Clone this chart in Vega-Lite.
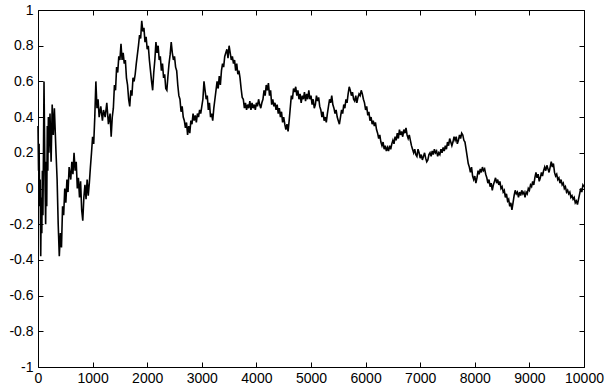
{
  "$schema": "https://vega.github.io/schema/vega-lite/v6.json",
  "width": 546,
  "height": 357,
  "autosize": "none",
  "padding": {"left": 38, "top": 10, "right": 22, "bottom": 22},
  "background": "white",
  "config": {
    "view": {"stroke": null},
    "axis": {
      "grid": false,
      "domainColor": "black",
      "domainWidth": 1,
      "tickColor": "black",
      "tickWidth": 1,
      "tickSize": -5,
      "labelFont": "Liberation Sans",
      "labelFontSize": 14,
      "labelColor": "black",
      "labelFlush": false,
      "labelOverlap": false,
      "title": null
    }
  },
  "datasets": {
    "walk": [
      {"t":0,"v":0.35},{"t":10,"v":0.1},{"t":20,"v":0.25},{"t":30,"v":-0.1},{"t":40,"v":0.05},{"t":50,"v":-0.38},{"t":60,"v":-0.05},{"t":70,"v":-0.25},{"t":80,"v":0.1},{"t":90,"v":-0.15},
      {"t":100,"v":0.2},{"t":110,"v":0.6},{"t":120,"v":0.3},{"t":130,"v":0.0},{"t":140,"v":-0.2},{"t":150,"v":0.15},{"t":160,"v":-0.1},{"t":170,"v":0.35},{"t":180,"v":0.1},{"t":190,"v":0.4},
      {"t":200,"v":0.2},{"t":220,"v":0.42},{"t":240,"v":0.15},{"t":260,"v":0.47},{"t":280,"v":0.3},{"t":300,"v":0.45},{"t":330,"v":0.2},{"t":350,"v":0.05},{"t":370,"v":-0.2},{"t":390,"v":-0.38},
      {"t":410,"v":-0.25},{"t":430,"v":-0.33},{"t":450,"v":-0.1},{"t":470,"v":-0.15},{"t":490,"v":0.0},{"t":510,"v":-0.08},{"t":530,"v":0.05},{"t":550,"v":-0.02},{"t":570,"v":0.12},{"t":600,"v":0.05},
      {"t":620,"v":0.15},{"t":640,"v":0.08},{"t":660,"v":0.2},{"t":680,"v":0.1},{"t":700,"v":0.15},{"t":720,"v":0.0},{"t":740,"v":0.06},{"t":760,"v":-0.05},{"t":780,"v":0.04},{"t":800,"v":-0.12},
      {"t":820,"v":-0.18},{"t":840,"v":-0.05},{"t":860,"v":0.02},{"t":880,"v":-0.06},{"t":900,"v":0.05},{"t":920,"v":-0.04},{"t":940,"v":0.03},{"t":960,"v":0.12},{"t":980,"v":0.2},{"t":1000,"v":0.29},
      {"t":1020,"v":0.25},{"t":1040,"v":0.4},{"t":1060,"v":0.6},{"t":1080,"v":0.45},{"t":1100,"v":0.5},{"t":1120,"v":0.4},{"t":1150,"v":0.46},{"t":1180,"v":0.38},{"t":1200,"v":0.44},{"t":1230,"v":0.4},
      {"t":1260,"v":0.48},{"t":1290,"v":0.36},{"t":1320,"v":0.42},{"t":1340,"v":0.29},{"t":1360,"v":0.4},{"t":1380,"v":0.45},{"t":1400,"v":0.58},{"t":1420,"v":0.55},{"t":1440,"v":0.68},{"t":1460,"v":0.65},
      {"t":1480,"v":0.74},{"t":1500,"v":0.72},{"t":1520,"v":0.81},{"t":1540,"v":0.72},{"t":1560,"v":0.76},{"t":1580,"v":0.7},{"t":1600,"v":0.72},{"t":1620,"v":0.62},{"t":1640,"v":0.58},{"t":1660,"v":0.5},
      {"t":1680,"v":0.46},{"t":1700,"v":0.55},{"t":1720,"v":0.52},{"t":1740,"v":0.62},{"t":1760,"v":0.6},{"t":1780,"v":0.64},{"t":1800,"v":0.7},{"t":1820,"v":0.75},{"t":1840,"v":0.8},{"t":1860,"v":0.86},
      {"t":1880,"v":0.84},{"t":1900,"v":0.94},{"t":1920,"v":0.88},{"t":1940,"v":0.9},{"t":1960,"v":0.82},{"t":1980,"v":0.85},{"t":2000,"v":0.78},{"t":2020,"v":0.8},{"t":2040,"v":0.72},{"t":2060,"v":0.66},
      {"t":2080,"v":0.6},{"t":2100,"v":0.55},{"t":2120,"v":0.65},{"t":2140,"v":0.72},{"t":2160,"v":0.82},{"t":2180,"v":0.76},{"t":2200,"v":0.8},{"t":2220,"v":0.72},{"t":2240,"v":0.74},{"t":2260,"v":0.66},
      {"t":2280,"v":0.7},{"t":2300,"v":0.62},{"t":2320,"v":0.64},{"t":2340,"v":0.56},{"t":2360,"v":0.55},{"t":2380,"v":0.63},{"t":2400,"v":0.7},{"t":2420,"v":0.75},{"t":2440,"v":0.82},{"t":2460,"v":0.76},
      {"t":2480,"v":0.72},{"t":2500,"v":0.74},{"t":2520,"v":0.68},{"t":2540,"v":0.66},{"t":2560,"v":0.58},{"t":2580,"v":0.52},{"t":2600,"v":0.5},{"t":2620,"v":0.43},{"t":2640,"v":0.46},{"t":2660,"v":0.4},
      {"t":2680,"v":0.38},{"t":2700,"v":0.34},{"t":2720,"v":0.37},{"t":2740,"v":0.3},{"t":2760,"v":0.35},{"t":2780,"v":0.31},{"t":2800,"v":0.38},{"t":2820,"v":0.36},{"t":2840,"v":0.42},{"t":2860,"v":0.38},
      {"t":2880,"v":0.41},{"t":2900,"v":0.37},{"t":2920,"v":0.42},{"t":2940,"v":0.4},{"t":2960,"v":0.44},{"t":2980,"v":0.42},{"t":3000,"v":0.46},{"t":3020,"v":0.5},{"t":3040,"v":0.6},{"t":3060,"v":0.55},
      {"t":3080,"v":0.5},{"t":3100,"v":0.52},{"t":3120,"v":0.44},{"t":3140,"v":0.48},{"t":3160,"v":0.4},{"t":3180,"v":0.42},{"t":3200,"v":0.38},{"t":3220,"v":0.45},{"t":3240,"v":0.5},{"t":3260,"v":0.55},
      {"t":3280,"v":0.6},{"t":3300,"v":0.56},{"t":3320,"v":0.63},{"t":3340,"v":0.58},{"t":3360,"v":0.66},{"t":3380,"v":0.7},{"t":3400,"v":0.68},{"t":3420,"v":0.74},{"t":3440,"v":0.76},{"t":3460,"v":0.78},
      {"t":3480,"v":0.73},{"t":3500,"v":0.8},{"t":3520,"v":0.76},{"t":3540,"v":0.72},{"t":3560,"v":0.74},{"t":3580,"v":0.7},{"t":3600,"v":0.72},{"t":3620,"v":0.66},{"t":3640,"v":0.7},{"t":3660,"v":0.64},
      {"t":3680,"v":0.66},{"t":3700,"v":0.62},{"t":3720,"v":0.56},{"t":3740,"v":0.51},{"t":3760,"v":0.5},{"t":3780,"v":0.45},{"t":3800,"v":0.48},{"t":3820,"v":0.44},{"t":3840,"v":0.47},{"t":3860,"v":0.45},
      {"t":3880,"v":0.49},{"t":3900,"v":0.44},{"t":3920,"v":0.48},{"t":3940,"v":0.45},{"t":3960,"v":0.47},{"t":3980,"v":0.44},{"t":4000,"v":0.48},{"t":4020,"v":0.46},{"t":4040,"v":0.5},{"t":4060,"v":0.47},
      {"t":4080,"v":0.45},{"t":4100,"v":0.48},{"t":4120,"v":0.5},{"t":4140,"v":0.55},{"t":4160,"v":0.52},{"t":4180,"v":0.58},{"t":4200,"v":0.55},{"t":4220,"v":0.59},{"t":4240,"v":0.52},{"t":4260,"v":0.55},
      {"t":4280,"v":0.47},{"t":4300,"v":0.5},{"t":4320,"v":0.46},{"t":4340,"v":0.48},{"t":4360,"v":0.44},{"t":4380,"v":0.47},{"t":4400,"v":0.42},{"t":4420,"v":0.45},{"t":4440,"v":0.4},{"t":4460,"v":0.43},
      {"t":4480,"v":0.37},{"t":4500,"v":0.4},{"t":4520,"v":0.36},{"t":4540,"v":0.33},{"t":4560,"v":0.36},{"t":4580,"v":0.32},{"t":4600,"v":0.38},{"t":4620,"v":0.45},{"t":4640,"v":0.52},{"t":4660,"v":0.5},
      {"t":4680,"v":0.56},{"t":4700,"v":0.54},{"t":4720,"v":0.57},{"t":4740,"v":0.52},{"t":4760,"v":0.55},{"t":4780,"v":0.5},{"t":4800,"v":0.53},{"t":4820,"v":0.48},{"t":4840,"v":0.52},{"t":4860,"v":0.5},
      {"t":4880,"v":0.54},{"t":4900,"v":0.49},{"t":4920,"v":0.53},{"t":4940,"v":0.5},{"t":4960,"v":0.55},{"t":4980,"v":0.5},{"t":5000,"v":0.52},{"t":5020,"v":0.47},{"t":5040,"v":0.5},{"t":5060,"v":0.45},
      {"t":5080,"v":0.47},{"t":5100,"v":0.52},{"t":5120,"v":0.49},{"t":5140,"v":0.51},{"t":5160,"v":0.46},{"t":5180,"v":0.44},{"t":5200,"v":0.4},{"t":5220,"v":0.43},{"t":5240,"v":0.38},{"t":5260,"v":0.4},
      {"t":5280,"v":0.37},{"t":5300,"v":0.42},{"t":5320,"v":0.46},{"t":5340,"v":0.5},{"t":5360,"v":0.48},{"t":5380,"v":0.52},{"t":5400,"v":0.47},{"t":5420,"v":0.45},{"t":5440,"v":0.42},{"t":5460,"v":0.44},
      {"t":5480,"v":0.4},{"t":5500,"v":0.38},{"t":5520,"v":0.36},{"t":5540,"v":0.4},{"t":5560,"v":0.44},{"t":5580,"v":0.42},{"t":5600,"v":0.47},{"t":5620,"v":0.45},{"t":5640,"v":0.5},{"t":5660,"v":0.48},
      {"t":5680,"v":0.53},{"t":5700,"v":0.57},{"t":5720,"v":0.55},{"t":5740,"v":0.52},{"t":5760,"v":0.54},{"t":5780,"v":0.5},{"t":5800,"v":0.49},{"t":5820,"v":0.52},{"t":5840,"v":0.48},{"t":5860,"v":0.51},
      {"t":5880,"v":0.53},{"t":5900,"v":0.52},{"t":5920,"v":0.55},{"t":5940,"v":0.53},{"t":5960,"v":0.5},{"t":5980,"v":0.48},{"t":6000,"v":0.44},{"t":6020,"v":0.46},{"t":6040,"v":0.41},{"t":6060,"v":0.43},
      {"t":6080,"v":0.38},{"t":6100,"v":0.4},{"t":6120,"v":0.36},{"t":6140,"v":0.38},{"t":6160,"v":0.35},{"t":6180,"v":0.37},{"t":6200,"v":0.33},{"t":6220,"v":0.31},{"t":6240,"v":0.28},{"t":6260,"v":0.3},
      {"t":6280,"v":0.26},{"t":6300,"v":0.24},{"t":6320,"v":0.26},{"t":6340,"v":0.22},{"t":6360,"v":0.24},{"t":6380,"v":0.21},{"t":6400,"v":0.23},{"t":6420,"v":0.21},{"t":6440,"v":0.24},{"t":6460,"v":0.22},
      {"t":6480,"v":0.25},{"t":6500,"v":0.27},{"t":6520,"v":0.25},{"t":6540,"v":0.29},{"t":6560,"v":0.27},{"t":6580,"v":0.31},{"t":6600,"v":0.28},{"t":6620,"v":0.33},{"t":6640,"v":0.3},{"t":6660,"v":0.32},
      {"t":6680,"v":0.29},{"t":6700,"v":0.33},{"t":6720,"v":0.31},{"t":6740,"v":0.34},{"t":6760,"v":0.3},{"t":6780,"v":0.28},{"t":6800,"v":0.3},{"t":6820,"v":0.27},{"t":6840,"v":0.24},{"t":6860,"v":0.22},
      {"t":6880,"v":0.2},{"t":6900,"v":0.22},{"t":6920,"v":0.19},{"t":6940,"v":0.18},{"t":6960,"v":0.22},{"t":6980,"v":0.2},{"t":7000,"v":0.17},{"t":7020,"v":0.19},{"t":7040,"v":0.16},{"t":7060,"v":0.18},
      {"t":7080,"v":0.2},{"t":7100,"v":0.17},{"t":7120,"v":0.15},{"t":7140,"v":0.16},{"t":7160,"v":0.19},{"t":7180,"v":0.2},{"t":7200,"v":0.18},{"t":7220,"v":0.21},{"t":7240,"v":0.19},{"t":7260,"v":0.22},
      {"t":7280,"v":0.2},{"t":7300,"v":0.21},{"t":7320,"v":0.18},{"t":7340,"v":0.2},{"t":7360,"v":0.19},{"t":7380,"v":0.22},{"t":7400,"v":0.2},{"t":7420,"v":0.23},{"t":7440,"v":0.21},{"t":7460,"v":0.24},
      {"t":7480,"v":0.22},{"t":7500,"v":0.26},{"t":7520,"v":0.24},{"t":7540,"v":0.28},{"t":7560,"v":0.26},{"t":7580,"v":0.24},{"t":7600,"v":0.26},{"t":7620,"v":0.29},{"t":7640,"v":0.27},{"t":7660,"v":0.29},
      {"t":7680,"v":0.25},{"t":7700,"v":0.27},{"t":7720,"v":0.3},{"t":7740,"v":0.28},{"t":7760,"v":0.31},{"t":7780,"v":0.3},{"t":7800,"v":0.27},{"t":7820,"v":0.26},{"t":7840,"v":0.22},{"t":7860,"v":0.18},
      {"t":7880,"v":0.14},{"t":7900,"v":0.12},{"t":7920,"v":0.09},{"t":7940,"v":0.12},{"t":7960,"v":0.07},{"t":7980,"v":0.05},{"t":8000,"v":0.07},{"t":8020,"v":0.03},{"t":8040,"v":0.06},{"t":8060,"v":0.1},
      {"t":8080,"v":0.08},{"t":8100,"v":0.11},{"t":8120,"v":0.09},{"t":8140,"v":0.12},{"t":8160,"v":0.1},{"t":8180,"v":0.11},{"t":8200,"v":0.08},{"t":8220,"v":0.06},{"t":8240,"v":0.03},{"t":8260,"v":0.05},
      {"t":8280,"v":0.01},{"t":8300,"v":0.03},{"t":8320,"v":-0.01},{"t":8340,"v":0.02},{"t":8360,"v":0.04},{"t":8380,"v":0.06},{"t":8400,"v":0.03},{"t":8420,"v":0.05},{"t":8440,"v":0.02},{"t":8460,"v":0.04},
      {"t":8480,"v":0.0},{"t":8500,"v":0.01},{"t":8520,"v":-0.02},{"t":8540,"v":-0.01},{"t":8560,"v":-0.05},{"t":8580,"v":-0.03},{"t":8600,"v":-0.07},{"t":8620,"v":-0.06},{"t":8640,"v":-0.1},{"t":8660,"v":-0.08},
      {"t":8680,"v":-0.12},{"t":8700,"v":-0.08},{"t":8720,"v":-0.04},{"t":8740,"v":-0.01},{"t":8760,"v":-0.03},{"t":8780,"v":-0.02},{"t":8800,"v":-0.05},{"t":8820,"v":-0.02},{"t":8840,"v":-0.04},{"t":8860,"v":-0.01},
      {"t":8880,"v":-0.03},{"t":8900,"v":-0.02},{"t":8920,"v":-0.05},{"t":8940,"v":-0.02},{"t":8960,"v":-0.03},{"t":8980,"v":0.0},{"t":9000,"v":-0.01},{"t":9020,"v":0.02},{"t":9040,"v":0.01},{"t":9060,"v":0.04},
      {"t":9080,"v":0.02},{"t":9100,"v":0.06},{"t":9120,"v":0.09},{"t":9140,"v":0.06},{"t":9160,"v":0.08},{"t":9180,"v":0.04},{"t":9200,"v":0.06},{"t":9220,"v":0.09},{"t":9240,"v":0.07},{"t":9260,"v":0.1},
      {"t":9280,"v":0.12},{"t":9300,"v":0.1},{"t":9320,"v":0.13},{"t":9340,"v":0.11},{"t":9360,"v":0.09},{"t":9380,"v":0.12},{"t":9400,"v":0.15},{"t":9420,"v":0.12},{"t":9440,"v":0.14},{"t":9460,"v":0.09},
      {"t":9480,"v":0.07},{"t":9500,"v":0.08},{"t":9520,"v":0.05},{"t":9540,"v":0.06},{"t":9560,"v":0.03},{"t":9580,"v":0.05},{"t":9600,"v":0.02},{"t":9620,"v":0.03},{"t":9640,"v":0.0},{"t":9660,"v":0.01},
      {"t":9680,"v":-0.02},{"t":9700,"v":-0.01},{"t":9720,"v":-0.03},{"t":9740,"v":-0.02},{"t":9760,"v":-0.05},{"t":9780,"v":-0.04},{"t":9800,"v":-0.06},{"t":9820,"v":-0.05},{"t":9840,"v":-0.08},{"t":9860,"v":-0.07},
      {"t":9880,"v":-0.09},{"t":9900,"v":-0.06},{"t":9920,"v":-0.03},{"t":9940,"v":0.0},{"t":9960,"v":-0.02},{"t":9980,"v":0.02},{"t":10000,"v":0.01}
    ]
  },
  "data": {"name": "walk"},
  "layer": [
    {
      "mark": {"type": "line", "color": "black", "strokeWidth": 1.6, "interpolate": "linear"},
      "encoding": {
        "x": {
          "field": "t", "type": "quantitative",
          "scale": {"domain": [0, 10000], "nice": false, "zero": false},
          "axis": {
            "orient": "bottom",
            "values": [0, 1000, 2000, 3000, 4000, 5000, 6000, 7000, 8000, 9000, 10000],
            "labelPadding": 9,
            "labelExpr": "'' + datum.value"
          }
        },
        "y": {
          "field": "v", "type": "quantitative",
          "scale": {"domain": [-1, 1], "nice": false, "zero": false},
          "axis": {
            "orient": "left",
            "values": [-1, -0.8, -0.6, -0.4, -0.2, 0, 0.2, 0.4, 0.6, 0.8, 1],
            "labelPadding": 10,
            "labelExpr": "'' + datum.value"
          }
        }
      }
    },
    {
      "mark": {"type": "line", "opacity": 0},
      "encoding": {
        "x": {
          "field": "t", "type": "quantitative",
          "axis": {
            "orient": "top",
            "values": [0, 1000, 2000, 3000, 4000, 5000, 6000, 7000, 8000, 9000, 10000],
            "labels": false
          }
        },
        "y": {
          "field": "v", "type": "quantitative",
          "axis": {
            "orient": "right",
            "values": [-1, -0.8, -0.6, -0.4, -0.2, 0, 0.2, 0.4, 0.6, 0.8, 1],
            "labels": false
          }
        }
      }
    }
  ],
  "resolve": {"axis": {"x": "independent", "y": "independent"}}
}
